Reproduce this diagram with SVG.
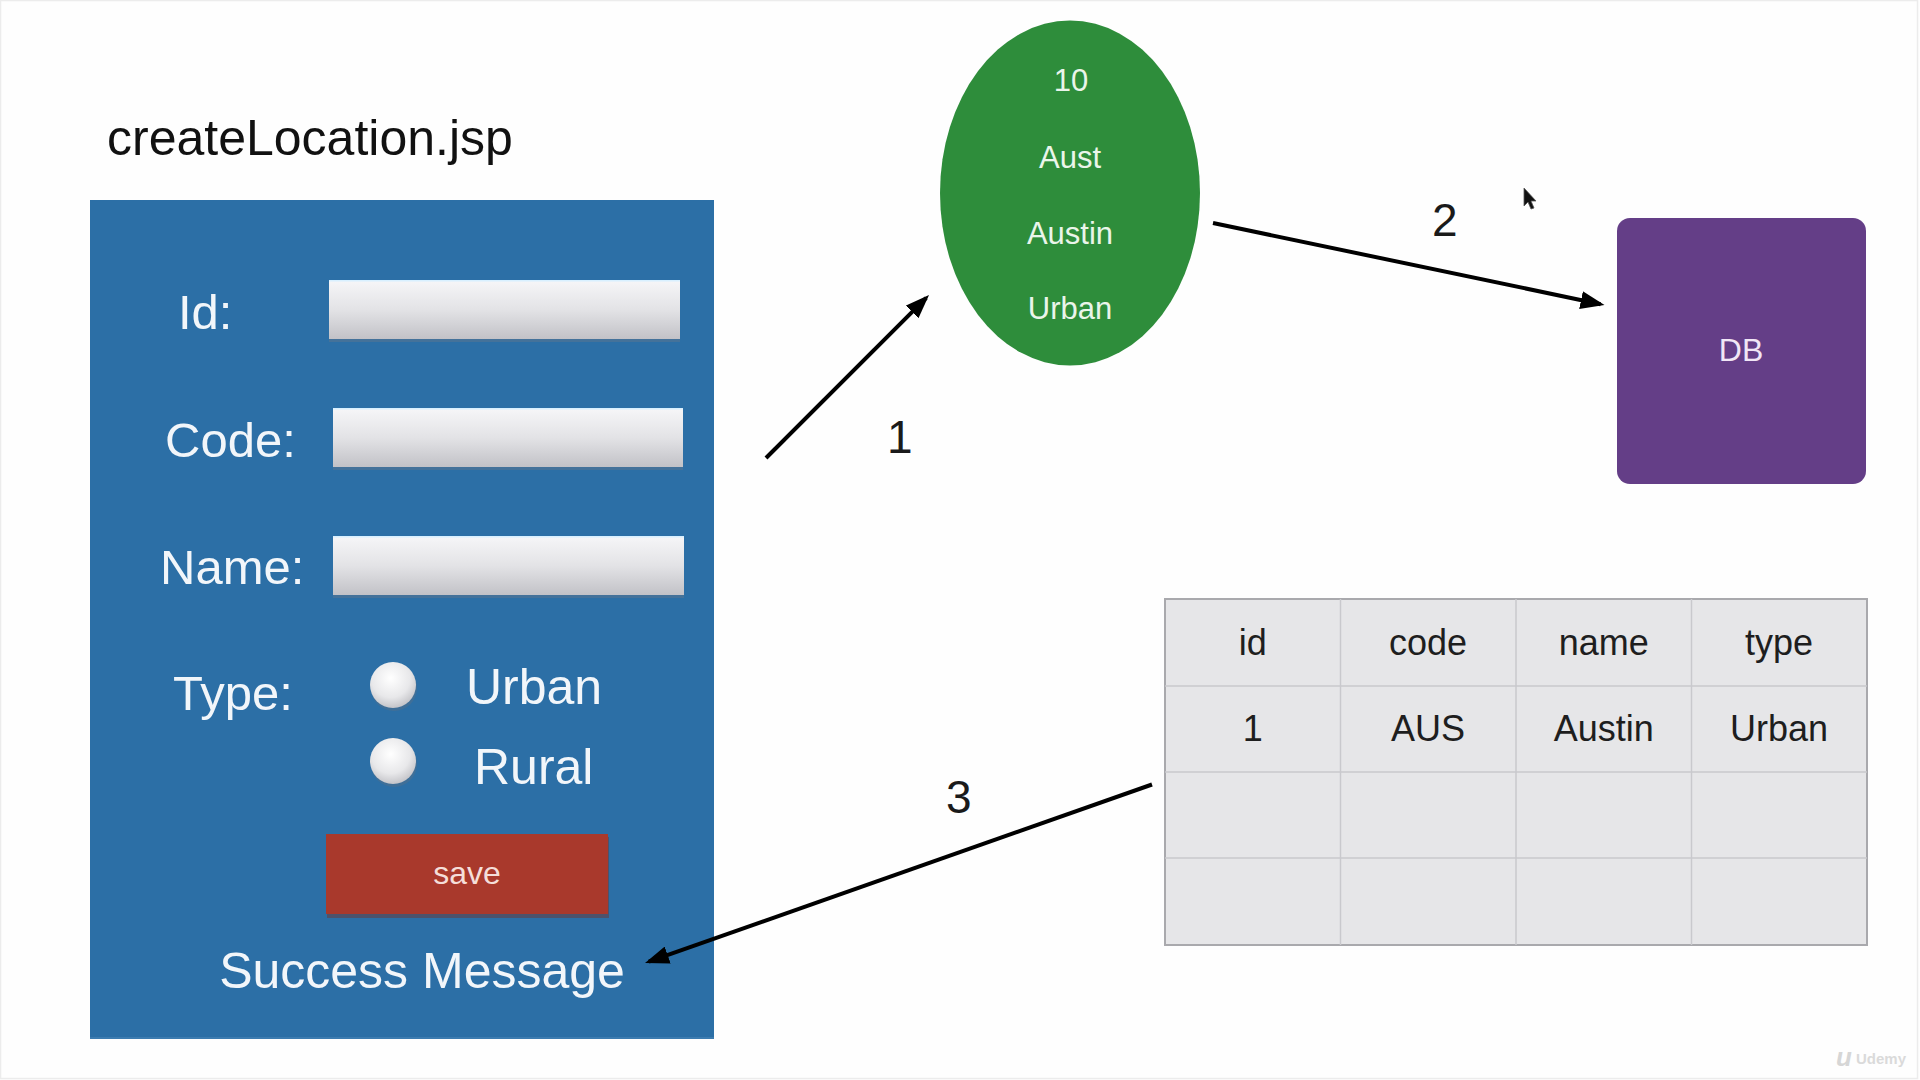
<svg xmlns="http://www.w3.org/2000/svg" width="1920" height="1080" viewBox="0 0 1920 1080">
  <defs>
    <linearGradient id="fieldGrad" x1="0" y1="0" x2="0" y2="1">
      <stop offset="0" stop-color="#f6f6f8"/>
      <stop offset="0.5" stop-color="#e3e3e6"/>
      <stop offset="1" stop-color="#c2c2c7"/>
    </linearGradient>
    <radialGradient id="radioGrad" cx="0.45" cy="0.35" r="0.7">
      <stop offset="0" stop-color="#ffffff"/>
      <stop offset="0.6" stop-color="#e8e8ea"/>
      <stop offset="1" stop-color="#bdbdc2"/>
    </radialGradient>
    <marker id="arrow" markerUnits="userSpaceOnUse" markerWidth="24" markerHeight="18" refX="20" refY="9" orient="auto">
      <path d="M0,0 L24,9 L0,18 z" fill="#000"/>
    </marker>
    <style>
      .sans { font-family: "Liberation Sans", Arial, "Helvetica Neue", sans-serif; }
      .title { font-size: 50px; fill: #111111; }
      .lbl { font-size: 49px; fill: #f2f6fa; }
      .opt { font-size: 50px; fill: #f2f6fa; }
      .field { fill: url(#fieldGrad); }
      .fieldShadow { fill: #5a7590; opacity: 0.55; }
      .radio { fill: url(#radioGrad); }
      .ovalTxt { font-size: 31px; fill: #eaf5ea; text-anchor: middle; }
      .num { font-size: 46px; fill: #1a1a1a; }
      .cellTxt { font-size: 36px; fill: #1e1e1e; text-anchor: middle; }
      .conn { stroke: #000; stroke-width: 4; fill: none; marker-end: url(#arrow); }
    </style>
  </defs>

  <rect x="0" y="0" width="1920" height="1080" fill="#fefefe"/>
  <rect x="0.5" y="0.5" width="1917" height="1078" fill="none" stroke="#ececec" stroke-width="1.5"/>

  <g id="title">
    <text class="sans title" x="107" y="155">createLocation.jsp</text>
  </g>

  <g id="form">
    <rect x="90" y="200" width="624" height="839" fill="#2c6fa6"/>
    <rect x="90" y="1037" width="624" height="2" fill="#4a86b8" opacity="0.6"/>

    <g id="field-id">
      <text class="sans lbl" x="178" y="329">Id:</text>
      <rect class="fieldShadow" x="329" y="282" width="351" height="60"/>
      <rect class="field" x="329" y="280" width="351" height="59"/>
      <rect x="329" y="280" width="351" height="1.5" fill="#d8f0ff"/>
    </g>
    <g id="field-code">
      <text class="sans lbl" x="165" y="457">Code:</text>
      <rect class="fieldShadow" x="333" y="410" width="350" height="60"/>
      <rect class="field" x="333" y="408" width="350" height="59"/>
      <rect x="333" y="408" width="350" height="1.5" fill="#d8f0ff"/>
    </g>
    <g id="field-name">
      <text class="sans lbl" x="160" y="584">Name:</text>
      <rect class="fieldShadow" x="333" y="538" width="351" height="60"/>
      <rect class="field" x="333" y="536" width="351" height="59"/>
      <rect x="333" y="536" width="351" height="1.5" fill="#d8f0ff"/>
    </g>
    <g id="field-type">
      <text class="sans lbl" x="173" y="710">Type:</text>
      <circle cx="394" cy="688" r="23" fill="#4d6f8f" opacity="0.6"/>
      <circle class="radio" cx="393" cy="685" r="23"/>
      <text class="sans opt" x="466" y="704">Urban</text>
      <circle cx="394" cy="764" r="23" fill="#4d6f8f" opacity="0.6"/>
      <circle class="radio" cx="393" cy="761" r="23"/>
      <text class="sans opt" x="474" y="784">Rural</text>
    </g>
    <g id="save-button">
      <rect x="327" y="837" width="282" height="81" fill="#6a3a3a" opacity="0.55"/>
      <rect x="326" y="834" width="282" height="80" fill="#a9392c"/>
      <text class="sans" x="467" y="884" font-size="32" fill="#f5ded9" text-anchor="middle">save</text>
    </g>
    <g id="success-message">
      <text class="sans opt" x="422" y="988" text-anchor="middle">Success Message</text>
    </g>
  </g>

  <g id="location-object">
    <ellipse cx="1070" cy="193" rx="130" ry="172.5" fill="#2e8d3b"/>
    <text class="sans ovalTxt" x="1071" y="91">10</text>
    <text class="sans ovalTxt" x="1070" y="168">Aust</text>
    <text class="sans ovalTxt" x="1070" y="244">Austin</text>
    <text class="sans ovalTxt" x="1070" y="319">Urban</text>
  </g>

  <g id="db">
    <rect x="1617" y="218" width="249" height="266" rx="13" ry="13" fill="#643e87"/>
    <text class="sans" x="1741" y="361" font-size="32" fill="#f1e6f6" text-anchor="middle">DB</text>
  </g>

  <g id="table">
    <rect x="1165" y="599" width="702" height="346" fill="#e6e6e8" stroke="#a9a9ad" stroke-width="2"/>
    <g stroke="#c9c9cd" stroke-width="1.5">
      <line x1="1340.5" y1="599" x2="1340.5" y2="945"/>
      <line x1="1516" y1="599" x2="1516" y2="945"/>
      <line x1="1691.5" y1="599" x2="1691.5" y2="945"/>
      <line x1="1165" y1="686" x2="1867" y2="686"/>
      <line x1="1165" y1="772" x2="1867" y2="772"/>
      <line x1="1165" y1="858" x2="1867" y2="858"/>
    </g>
    <text class="sans cellTxt" x="1252.75" y="655">id</text>
    <text class="sans cellTxt" x="1428" y="655">code</text>
    <text class="sans cellTxt" x="1603.75" y="655">name</text>
    <text class="sans cellTxt" x="1779" y="655">type</text>
    <text class="sans cellTxt" x="1252.75" y="741">1</text>
    <text class="sans cellTxt" x="1428" y="741">AUS</text>
    <text class="sans cellTxt" x="1603.75" y="741">Austin</text>
    <text class="sans cellTxt" x="1779" y="741">Urban</text>
  </g>

  <g id="connectors">
    <line class="conn" x1="766" y1="458" x2="926.2" y2="297.8"/>
    <line class="conn" x1="1213" y1="223" x2="1600.6" y2="304.2"/>
    <line class="conn" x1="1152" y1="784.5" x2="648.8" y2="961.7"/>
    <text class="sans num" x="887" y="453">1</text>
    <text class="sans num" x="1432" y="236">2</text>
    <text class="sans num" x="946" y="813">3</text>
  </g>

  <g id="cursor">
    <path d="M1524,188 L1524,206 L1528,202 L1531,209 L1534,208 L1531,201 L1536,201 z" fill="#111" stroke="#555" stroke-width="0.8"/>
  </g>

  <g id="watermark">
    <text class="sans" x="1836" y="1066" font-size="26" font-weight="bold" font-style="italic" fill="#d6d6d6">u</text>
    <text class="sans" x="1856" y="1064" font-size="15" font-weight="bold" fill="#dadada">Udemy</text>
  </g>
</svg>
